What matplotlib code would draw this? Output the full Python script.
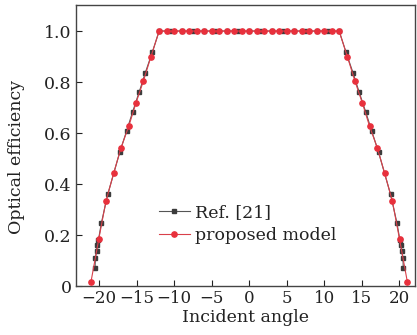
import matplotlib
matplotlib.use("Agg")
import matplotlib.pyplot as plt

# Ref. [21] (grey squares)
ref_x = [-20.55, -20.5, -20.35, -20.25, -20.1, -19.7, -18.85, -17.25, -16.35, -15.55,
         -14.65, -13.85, -12.9, -12.0, -10.5, -9.0, -7.5, -6.0, -4.5, -3.0, -1.5, 0.0,
         1.5, 3.0, 4.5, 6.0, 7.5, 9.0, 10.5, 12.0, 12.9, 13.85, 14.65, 15.55, 16.35,
         17.25, 18.85, 19.7, 20.1, 20.25, 20.35, 20.5, 20.55]
ref_y = [0.07, 0.11, 0.137, 0.16, 0.18, 0.248, 0.36, 0.525, 0.607, 0.682,
         0.762, 0.836, 0.918, 1.0, 1.0, 1.0, 1.0, 1.0, 1.0, 1.0, 1.0, 1.0,
         1.0, 1.0, 1.0, 1.0, 1.0, 1.0, 1.0, 1.0, 0.918, 0.836, 0.762, 0.682, 0.607,
         0.525, 0.36, 0.248, 0.18, 0.16, 0.137, 0.11, 0.07]

# proposed model (red circles)
prop_x = [-21.1, -20.05, -19.1, -18.05, -17.1, -16.05, -15.1, -14.1, -13.1, -12.0,
          -11.0, -10.0, -9.0, -8.0, -7.0, -6.0, -5.0, -4.0, -3.0, -2.0, -1.0, 0.0,
          1.0, 2.0, 3.0, 4.0, 5.0, 6.0, 7.0, 8.0, 9.0, 10.0, 11.0, 12.0,
          13.1, 14.1, 15.1, 16.05, 17.1, 18.05, 19.1, 20.05, 21.1]
prop_y = [0.015, 0.184, 0.332, 0.444, 0.541, 0.627, 0.717, 0.804, 0.899, 1.0,
          1.0, 1.0, 1.0, 1.0, 1.0, 1.0, 1.0, 1.0, 1.0, 1.0, 1.0, 1.0,
          1.0, 1.0, 1.0, 1.0, 1.0, 1.0, 1.0, 1.0, 1.0, 1.0, 1.0, 1.0,
          0.899, 0.804, 0.717, 0.627, 0.541, 0.444, 0.332, 0.184, 0.015]

x_ticks = [-20, -15, -10, -5, 0, 5, 10, 15, 20]
x_ticklabels = ["\u221220", "\u221215", "\u221210", "\u22125", "0", "5", "10", "15", "20"]
y_ticks = [0, 0.2, 0.4, 0.6, 0.8, 1.0]
y_ticklabels = ["0", "0.2", "0.4", "0.6", "0.8", "1.0"]

plt.rcParams['font.family'] = ['DejaVu Serif']
plt.rcParams['mathtext.fontset'] = 'dejavuserif'

fig = plt.figure(figsize=(4.17, 3.35), dpi=100)
ax = fig.add_axes([0.182, 0.146, 0.813, 0.839])

ax.plot(ref_x, ref_y, color='#555555', lw=0.8, marker='s', ms=3.4,
        mfc='#3c3c3c', mec='#3c3c3c', label='Ref. [21]', zorder=2)
ax.plot(prop_x, prop_y, color='#d9404a', lw=0.8, marker='o', ms=3.8,
        mfc='#e8303c', mec='#e8303c', label='proposed model', zorder=3)

ax.set_xlim(-23.1, 22.1)
ax.set_ylim(0, 1.102)
ax.set_xticks(x_ticks)
ax.set_xticklabels(x_ticklabels)
ax.set_yticks(y_ticks)
ax.set_yticklabels(y_ticklabels)
ax.tick_params(direction='in', length=4, width=0.8, labelsize=12.5, pad=3,
               colors='#222222')
ax.tick_params(axis='x', labelsize=12)
for s in ax.spines.values():
    s.set_color('#444444')
    s.set_linewidth(1.0)

ax.set_xlabel('Incident angle', fontsize=12.5, labelpad=1, color='#222222')
ax.set_ylabel('Optical efficiency', fontsize=12.5, color='#222222')
ax.yaxis.set_label_coords(-0.15, 0.46)

leg = ax.legend(loc='upper left', bbox_to_anchor=(0.224, 0.318), frameon=False,
                fontsize=12.5, handlelength=1.8, handletextpad=0.3,
                labelspacing=0.35, borderaxespad=0)
for t in leg.get_texts():
    t.set_color('#222222')

fig.savefig('out.png', dpi=100)
